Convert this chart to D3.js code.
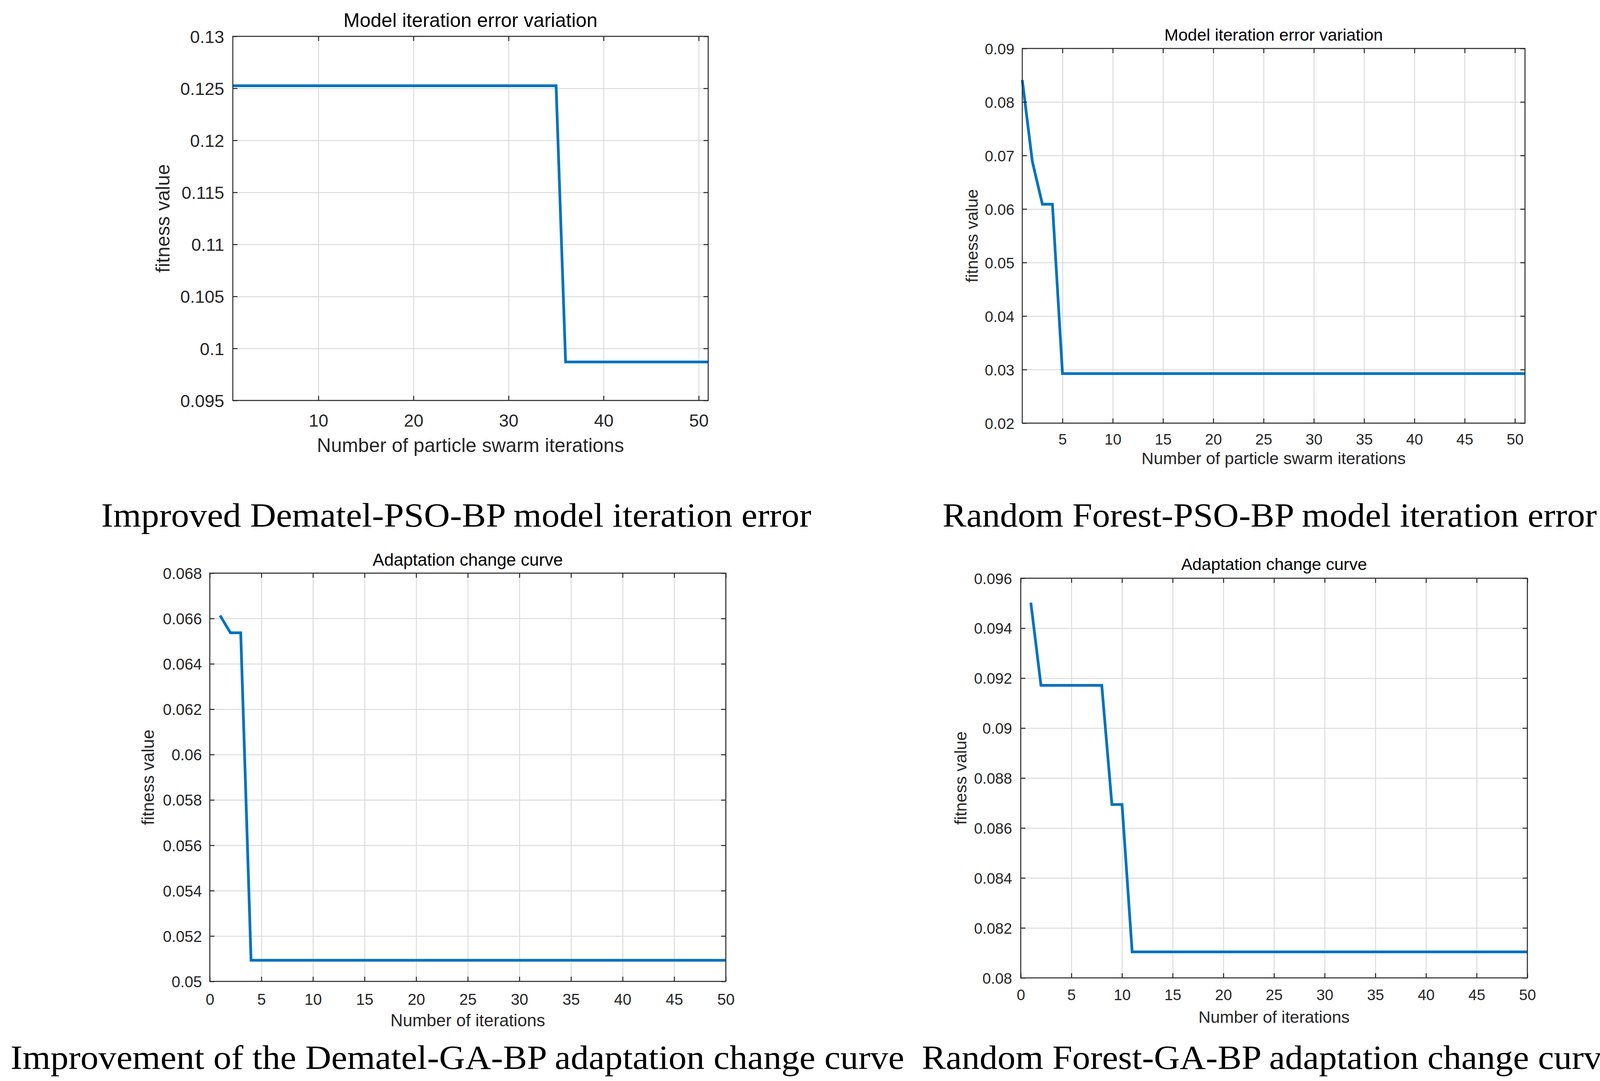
<!DOCTYPE html>
<html>
<head>
<meta charset="utf-8">
<script src="https://cdn.jsdelivr.net/npm/d3@7"></script>
<style>
  html, body { margin: 0; background: #fff; overflow: hidden; }
  svg { display: block; }
</style>
</head>
<body>
<script>
const width = 4159;
const height = 2767;

// Fitness values (one value per iteration)
const psoDematel = [
  0.12525, 0.12525, 0.12525, 0.12525, 0.12525, 0.12525, 0.12525, 0.12525, 0.12525, 0.12525,
  0.12525, 0.12525, 0.12525, 0.12525, 0.12525, 0.12525, 0.12525, 0.12525, 0.12525, 0.12525,
  0.12525, 0.12525, 0.12525, 0.12525, 0.12525, 0.12525, 0.12525, 0.12525, 0.12525, 0.12525,
  0.12525, 0.12525, 0.12525, 0.12525, 0.12525, 0.0987, 0.0987, 0.0987, 0.0987, 0.0987,
  0.0987, 0.0987, 0.0987, 0.0987, 0.0987, 0.0987, 0.0987, 0.0987, 0.0987, 0.0987,
  0.0987
];
const psoForest = [
  0.0841, 0.0689, 0.0609, 0.0609, 0.02925, 0.02925, 0.02925, 0.02925, 0.02925, 0.02925,
  0.02925, 0.02925, 0.02925, 0.02925, 0.02925, 0.02925, 0.02925, 0.02925, 0.02925, 0.02925,
  0.02925, 0.02925, 0.02925, 0.02925, 0.02925, 0.02925, 0.02925, 0.02925, 0.02925, 0.02925,
  0.02925, 0.02925, 0.02925, 0.02925, 0.02925, 0.02925, 0.02925, 0.02925, 0.02925, 0.02925,
  0.02925, 0.02925, 0.02925, 0.02925, 0.02925, 0.02925, 0.02925, 0.02925, 0.02925, 0.02925,
  0.02925
];
const gaDematel = [
  0.06613, 0.06537, 0.06537, 0.05093, 0.05093, 0.05093, 0.05093, 0.05093, 0.05093, 0.05093,
  0.05093, 0.05093, 0.05093, 0.05093, 0.05093, 0.05093, 0.05093, 0.05093, 0.05093, 0.05093,
  0.05093, 0.05093, 0.05093, 0.05093, 0.05093, 0.05093, 0.05093, 0.05093, 0.05093, 0.05093,
  0.05093, 0.05093, 0.05093, 0.05093, 0.05093, 0.05093, 0.05093, 0.05093, 0.05093, 0.05093,
  0.05093, 0.05093, 0.05093, 0.05093, 0.05093, 0.05093, 0.05093, 0.05093, 0.05093, 0.05093
];
const gaForest = [
  0.09502, 0.09171, 0.09171, 0.09171, 0.09171, 0.09171, 0.09171, 0.09171, 0.08694, 0.08694,
  0.08104, 0.08104, 0.08104, 0.08104, 0.08104, 0.08104, 0.08104, 0.08104, 0.08104, 0.08104,
  0.08104, 0.08104, 0.08104, 0.08104, 0.08104, 0.08104, 0.08104, 0.08104, 0.08104, 0.08104,
  0.08104, 0.08104, 0.08104, 0.08104, 0.08104, 0.08104, 0.08104, 0.08104, 0.08104, 0.08104,
  0.08104, 0.08104, 0.08104, 0.08104, 0.08104, 0.08104, 0.08104, 0.08104, 0.08104, 0.08104
];

// Tick values
const xTicksDematelPso = [10, 20, 30, 40, 50];
const xTicksForestPso = [5, 10, 15, 20, 25, 30, 35, 40, 45, 50];
const xTicksGa = [0, 5, 10, 15, 20, 25, 30, 35, 40, 45, 50];
const yTicksDematelPso = [0.095, 0.1, 0.105, 0.11, 0.115, 0.12, 0.125, 0.13];
const yTicksForestPso = [0.02, 0.03, 0.04, 0.05, 0.06, 0.07, 0.08, 0.09];
const yTicksDematelGa = [0.05, 0.052, 0.054, 0.056, 0.058, 0.06, 0.062, 0.064, 0.066, 0.068];
const yTicksForestGa = [0.08, 0.082, 0.084, 0.086, 0.088, 0.09, 0.092, 0.094, 0.096];

// Texts
const titles = ["Model iteration error variation", "Model iteration error variation",
  "Adaptation change curve", "Adaptation change curve"];
const xLabels = ["Number of particle swarm iterations", "Number of particle swarm iterations",
  "Number of iterations", "Number of iterations"];
const yLabel = "fitness value";
const captions = ["Improved Dematel-PSO-BP model iteration error",
  "Random Forest-PSO-BP model iteration error",
  "Improvement of the Dematel-GA-BP adaptation change curve",
  "Random Forest-GA-BP adaptation change curve"];

const lineColor = "#0072bd";
const axisColor = "#262626";
const gridColor = "#dcdcdc";
const sans = "'Liberation Sans', Arial, Helvetica, sans-serif";
const serif = "'Palatino Linotype', 'Book Antiqua', Palatino, 'Liberation Serif', serif";
const tickLen = 12;

const svg = d3.select("body").append("svg")
  .attr("width", width)
  .attr("height", height)
  .style("background", "#fff");

// Layout of each panel, in pixels
const panels = [
  { values: psoDematel, xDomain: [1, 51], yDomain: [0.095, 0.13], xTicks: xTicksDematelPso, yTicks: yTicksDematelPso,
    box: { l: 596, r: 1813, t: 93, b: 1025 }, tickSize: 45, labelSize: 50,
    titleY: 69, xTickY: 1092, xLabelY: 1157, yLabelX: 434, yTickX: 574 },
  { values: psoForest, xDomain: [1, 51], yDomain: [0.02, 0.09], xTicks: xTicksForestPso, yTicks: yTicksForestPso,
    box: { l: 2617, r: 3904, t: 124, b: 1083 }, tickSize: 39, labelSize: 43,
    titleY: 104, xTickY: 1138, xLabelY: 1188, yLabelX: 2503, yTickX: 2597 },
  { values: gaDematel, xDomain: [0, 50], yDomain: [0.05, 0.068], xTicks: xTicksGa, yTicks: yTicksDematelGa,
    box: { l: 537, r: 1858, t: 1467, b: 2512 }, tickSize: 40, labelSize: 44,
    titleY: 1448, xTickY: 2572, xLabelY: 2627, yLabelX: 394, yTickX: 517 },
  { values: gaForest, xDomain: [0, 50], yDomain: [0.08, 0.096], xTicks: xTicksGa, yTicks: yTicksForestGa,
    box: { l: 2613, r: 3910, t: 1480, b: 2503 }, tickSize: 39, labelSize: 43,
    titleY: 1459, xTickY: 2560, xLabelY: 2618, yLabelX: 2474, yTickX: 2591 }
];

const captionPos = [
  { x: 259, y: 1348, w: 1818 },
  { x: 2413, y: 1348, w: 1675 },
  { x: 27, y: 2736, w: 2288 },
  { x: 2360, y: 2736, w: 1781 }
];

function styleTicks(sel) {
  sel.select(".domain").remove();
  sel.selectAll(".tick line").attr("stroke", axisColor).attr("stroke-width", 2.5);
}

panels.forEach((p, k) => {
  const g = svg.append("g");
  const b = p.box;
  const w = b.r - b.l, h = b.b - b.t;
  const x = d3.scaleLinear().domain(p.xDomain).range([b.l, b.r]);
  const y = d3.scaleLinear().domain(p.yDomain).range([b.b, b.t]);

  // grid
  g.append("g").attr("transform", `translate(0,${b.b})`)
    .call(d3.axisBottom(x).tickValues(p.xTicks).tickSize(-h).tickFormat(""))
    .call(a => a.select(".domain").remove())
    .selectAll("line").attr("stroke", gridColor).attr("stroke-width", 2.5);
  g.append("g").attr("transform", `translate(${b.l},0)`)
    .call(d3.axisLeft(y).tickValues(p.yTicks).tickSize(-w).tickFormat(""))
    .call(a => a.select(".domain").remove())
    .selectAll("line").attr("stroke", gridColor).attr("stroke-width", 2.5);

  // curve
  g.append("path")
    .datum(p.values)
    .attr("d", d3.line().x((d, i) => x(i + 1)).y(d => y(d)))
    .attr("fill", "none")
    .attr("stroke", lineColor)
    .attr("stroke-width", 7);

  // bottom axis with labels
  const xb = g.append("g").attr("transform", `translate(0,${b.b})`)
    .call(d3.axisBottom(x).tickValues(p.xTicks).tickSizeInner(-tickLen).tickSizeOuter(0).tickFormat(d3.format("d")))
    .attr("font-family", sans).attr("font-size", p.tickSize);
  styleTicks(xb);
  xb.selectAll("text").attr("y", p.xTickY - b.b).attr("dy", null).attr("fill", axisColor);

  // top ticks
  const xt = g.append("g").attr("transform", `translate(0,${b.t})`)
    .call(d3.axisTop(x).tickValues(p.xTicks).tickSizeInner(-tickLen).tickSizeOuter(0).tickFormat(""));
  styleTicks(xt);

  // left axis with labels
  const yl = g.append("g").attr("transform", `translate(${b.l},0)`)
    .call(d3.axisLeft(y).tickValues(p.yTicks).tickSizeInner(-tickLen).tickSizeOuter(0).tickFormat(d => String(+d.toFixed(4))))
    .attr("font-family", sans).attr("font-size", p.tickSize);
  styleTicks(yl);
  yl.selectAll("text").attr("x", p.yTickX - b.l).attr("dy", "0.36em").attr("fill", axisColor);

  // right ticks
  const yr = g.append("g").attr("transform", `translate(${b.r},0)`)
    .call(d3.axisRight(y).tickValues(p.yTicks).tickSizeInner(-tickLen).tickSizeOuter(0).tickFormat(""));
  styleTicks(yr);

  // box
  g.append("rect")
    .attr("x", b.l).attr("y", b.t).attr("width", w).attr("height", h)
    .attr("fill", "none").attr("stroke", axisColor).attr("stroke-width", 2.5);

  // title and axis labels
  g.append("text")
    .attr("x", (b.l + b.r) / 2).attr("y", p.titleY)
    .attr("text-anchor", "middle").attr("font-family", sans).attr("font-size", p.labelSize)
    .attr("fill", "#000").text(titles[k]);
  g.append("text")
    .attr("x", (b.l + b.r) / 2).attr("y", p.xLabelY)
    .attr("text-anchor", "middle").attr("font-family", sans).attr("font-size", p.labelSize)
    .attr("fill", axisColor).text(xLabels[k]);
  g.append("text")
    .attr("transform", `translate(${p.yLabelX},${(b.t + b.b) / 2}) rotate(-90)`)
    .attr("text-anchor", "middle").attr("font-family", sans).attr("font-size", p.labelSize)
    .attr("fill", axisColor).text(yLabel);
});

// captions under each chart
svg.selectAll(".caption")
  .data(captions)
  .join("text")
    .attr("class", "caption")
    .attr("x", (d, i) => captionPos[i].x)
    .attr("y", (d, i) => captionPos[i].y)
    .attr("textLength", (d, i) => captionPos[i].w)
    .attr("lengthAdjust", "spacingAndGlyphs")
    .attr("font-family", serif)
    .attr("font-size", 86)
    .attr("fill", "#000")
    .text(d => d);
</script>
</body>
</html>
